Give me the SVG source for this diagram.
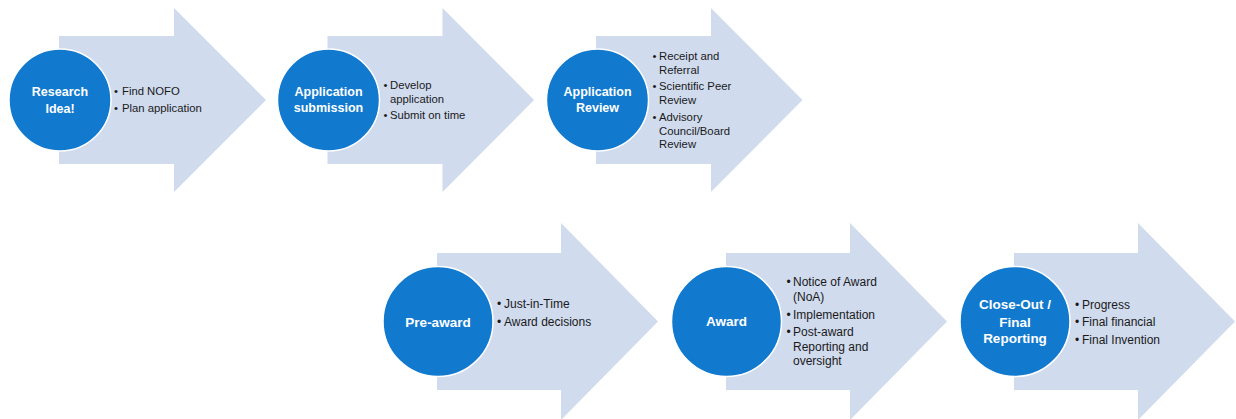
<svg xmlns="http://www.w3.org/2000/svg" width="1236" height="419" viewBox="0 0 1236 419">
<style>
.arrow{fill:#D0DBEE;stroke:none}
.circ{fill:#1179CE;stroke:#FFFFFF;stroke-width:1.5}
.ct{font-family:"Liberation Sans",Arial,sans-serif;font-weight:bold;fill:#FFFFFF;text-anchor:middle}
.c1{font-size:12.5px}
.c2{font-size:13.5px}
.bt{font-family:"Liberation Sans",Arial,sans-serif;fill:#1A1A1A}
.b1{font-size:11.3px}
.b2{font-size:12px}
.dot{text-anchor:middle}
</style>
<rect width="1236" height="419" fill="#FFFFFF"/>
<g id="connectors"></g>

<g id="step1">
<polygon class="arrow" points="59,36 174,36 174,8 266,100 174,192 174,164 59,164"/>
<circle class="circ" cx="60" cy="100" r="51"/>
<text class="ct c1" x="60" y="96">Research</text>
<text class="ct c1" x="60" y="113">Idea!</text>
<g class="bt b1">
<text class="dot" x="116" y="95">•</text><text x="122" y="95">Find NOFO</text>
<text class="dot" x="116" y="112">•</text><text x="122" y="112">Plan application</text>
</g>
</g>

<g id="step2">
<polygon class="arrow" points="327.5,36 442.5,36 442.5,8 534,100 442.5,192 442.5,164 327.5,164"/>
<circle class="circ" cx="328.5" cy="100" r="51"/>
<text class="ct c1" x="328.5" y="95.5">Application</text>
<text class="ct c1" x="328.5" y="111.5">submission</text>
<g class="bt b1">
<text class="dot" x="385.5" y="89">•</text><text x="390" y="89">Develop</text>
<text x="390" y="103">application</text>
<text class="dot" x="385.5" y="119">•</text><text x="390" y="119">Submit on time</text>
</g>
</g>

<g id="step3">
<polygon class="arrow" points="596,36 711,36 711,8 802.5,100 711,192 711,164 596,164"/>
<circle class="circ" cx="597.5" cy="100" r="51"/>
<text class="ct c1" x="597.5" y="96">Application</text>
<text class="ct c1" x="597.5" y="112">Review</text>
<g class="bt b1">
<text class="dot" x="654.5" y="60">•</text><text x="659" y="60">Receipt and</text>
<text x="659" y="73.5">Referral</text>
<text class="dot" x="654.5" y="90">•</text><text x="659" y="90">Scientific Peer</text>
<text x="659" y="103.5">Review</text>
<text class="dot" x="654.5" y="121">•</text><text x="659" y="121">Advisory</text>
<text x="659" y="134.5">Council/Board</text>
<text x="659" y="148">Review</text>
</g>
</g>

<g id="step4">
<polygon class="arrow" points="437,253 561,253 561,223 658,321.5 561,420 561,390 437,390"/>
<circle class="circ" cx="438" cy="321.5" r="55"/>
<text class="ct c2" x="438" y="326.5">Pre-award</text>
<g class="bt b2">
<text class="dot" x="499" y="308">•</text><text x="504" y="308">Just-in-Time</text>
<text class="dot" x="499" y="326">•</text><text x="504" y="326">Award decisions</text>
</g>
</g>

<g id="step5">
<polygon class="arrow" points="726,253 850,253 850,223 947,321.5 850,420 850,390 726,390"/>
<circle class="circ" cx="726.5" cy="321.5" r="55"/>
<text class="ct c2" x="726.5" y="326">Award</text>
<g class="bt b2">
<text class="dot" x="788.5" y="285.5">•</text><text x="793" y="285.5">Notice of Award</text>
<text x="793" y="301">(NoA)</text>
<text class="dot" x="788.5" y="318.5">•</text><text x="793" y="318.5">Implementation</text>
<text class="dot" x="788.5" y="335.5">•</text><text x="793" y="335.5">Post-award</text>
<text x="793" y="350.5">Reporting and</text>
<text x="793" y="365">oversight</text>
</g>
</g>

<g id="step6">
<polygon class="arrow" points="1014,253 1138,253 1138,223 1235,321.5 1138,420 1138,390 1014,390"/>
<circle class="circ" cx="1015" cy="321.5" r="55"/>
<text class="ct c2" x="1015" y="309">Close-Out /</text>
<text class="ct c2" x="1015" y="326.5">Final</text>
<text class="ct c2" x="1015" y="343">Reporting</text>
<g class="bt b2">
<text class="dot" x="1077" y="308.5">•</text><text x="1082" y="308.5">Progress</text>
<text class="dot" x="1077" y="326">•</text><text x="1082" y="326">Final financial</text>
<text class="dot" x="1077" y="343.5">•</text><text x="1082" y="343.5">Final Invention</text>
</g>
</g>
</svg>
